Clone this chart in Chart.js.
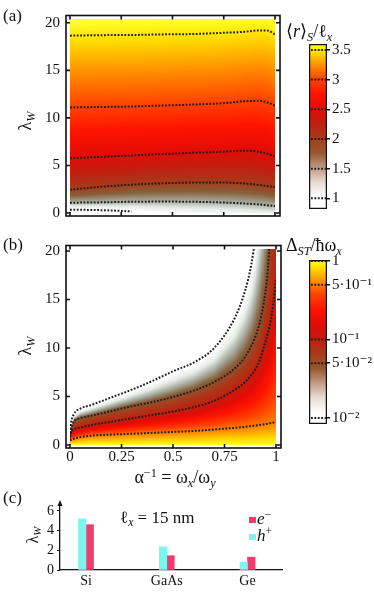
<!DOCTYPE html>
<html>
<head>
<meta charset="utf-8">
<script src="https://cdn.jsdelivr.net/npm/chart.js@4.4.0/dist/chart.umd.min.js"></script>
<style>
body { margin:0; width:374px; height:592px; position:relative; overflow:hidden; background:#fff;
  font-family:"Liberation Serif","DejaVu Serif",serif; color:#111; }
canvas { position:absolute; }
.lbl { position:absolute; white-space:nowrap; line-height:1; }
.rot { transform:translate(-50%,-50%) rotate(-90deg); }
.mid { transform:translate(-50%,-50%); }
sub, sup { font-size:68%; line-height:0; }
sub { vertical-align:-0.3em; }
sup { vertical-align:0.5em; }
.key { position:absolute; width:7px; height:6px; }
</style>
</head>
<body>
<canvas id="mapA" width="300" height="232" style="left:0;top:0"></canvas>
<canvas id="barA" width="74" height="190" style="left:300px;top:30px"></canvas>
<canvas id="mapB" width="300" height="262" style="left:0;top:230px"></canvas>
<canvas id="barB" width="74" height="190" style="left:300px;top:245px"></canvas>
<canvas id="chartC" width="374" height="102" style="left:0;top:490px"></canvas>

<div class="lbl" style="left:3px;top:7px;font-size:17px">(a)</div>
<div class="lbl" style="left:3px;top:236px;font-size:17px">(b)</div>
<div class="lbl" style="left:3px;top:489px;font-size:17px">(c)</div>
<div class="lbl rot" style="left:25px;top:121px;font-size:18px">λ<sub><i>W</i></sub></div>
<div class="lbl rot" style="left:25px;top:346px;font-size:18px">λ<sub><i>W</i></sub></div>
<div class="lbl rot" style="left:33px;top:535px;font-size:16px">λ<sub><i>W</i></sub></div>
<div class="lbl mid" style="left:175px;top:477px;font-size:18px">α<sup>−1</sup> = ω<sub><i>x</i></sub>/ω<sub><i>y</i></sub></div>
<div class="lbl" style="left:286px;top:22px;font-size:18px">⟨<i>r</i>⟩<sub><i>S</i></sub>/ℓ<sub><i>x</i></sub></div>
<div class="lbl" style="left:286px;top:236px;font-size:18px">Δ<sub><i>ST</i></sub>/ħω<sub><i>x</i></sub></div>
<div class="lbl" style="left:120px;top:509px;font-size:17px">ℓ<sub><i>x</i></sub> = 15 nm</div>
<div class="key" style="left:249px;top:517px;background:#f23a6c"></div>
<div class="lbl" style="left:257px;top:510px;font-size:17px"><i>e</i><sup>−</sup></div>
<div class="key" style="left:249px;top:534px;background:#7af5f0"></div>
<div class="lbl" style="left:257px;top:527px;font-size:17px"><i>h</i><sup>+</sup></div>

<script>
// axes
const alphaTicks = [0, 0.25, 0.5, 0.75, 1];
const alphaLabels = ['0', '0.25', '0.5', '0.75', '1'];
const lambdaTicks = [0, 5, 10, 15, 20];

// (a) contours of <r>_S / l_x : lambda_W along each level, sampled at alphaA
const alphaA = [0, 0.15, 0.3, 0.45, 0.6, 0.75, 0.85, 0.92, 0.96, 1];
const rLevels = [1, 1.5, 2, 2.5, 3, 3.5];
const lamR10 = [0.35, 0.3, 0.16, -0.1, -0.25, -0.35, -0.45, -0.5, -0.55, -0.6];
const lamR15 = [1.08, 1.12, 1.18, 1.2, 1.18, 1.1, 1.0, 0.9, 0.82, 0.72];
const lamR20 = [2.46, 2.75, 2.98, 3.12, 3.2, 3.2, 3.1, 2.95, 2.85, 2.7];
const lamR25 = [5.75, 5.9, 6.05, 6.2, 6.33, 6.45, 6.55, 6.45, 6.25, 5.95];
const lamR30 = [11.1, 11.15, 11.2, 11.3, 11.4, 11.55, 11.75, 11.8, 11.65, 11.3];
const lamR35 = [18.65, 18.7, 18.72, 18.78, 18.82, 18.95, 19.05, 19.2, 19.2, 18.8];
const cbTicksA = [1, 1.5, 2, 2.5, 3, 3.5];
const cbLabelsA = ['1', '1.5', '2', '2.5', '3', '3.5'];
const cbMinA = 0.82, cbMaxA = 3.6;

// (b) contours of Delta_ST / hbar w_x
const alphaB = [0, 0.005, 0.02, 0.05, 0.1, 0.2, 0.3, 0.4, 0.5, 0.6, 0.7, 0.8, 0.85, 0.88, 0.9, 0.92, 0.94, 0.96, 0.98, 1];
const dLevels = [1, 0.5, 0.1, 0.05, 0.01];
const lamD1   = [0, 0, 0, 0, 0, 0, 0, 0, 0, 0, 0, 0, 0, 0, 0, 0, 0, 0, 0, 0];
const lamD05  = [0.45, 0.55, 0.65, 0.8, 0.95, 1.07, 1.16, 1.25, 1.35, 1.45, 1.6, 1.77, 1.87, 1.95, 2.0, 2.06, 2.12, 2.2, 2.28, 2.37];
const lamD01  = [0.8, 1.3, 1.63, 1.8, 2.05, 2.4, 2.75, 3.1, 3.45, 3.9, 4.55, 5.7, 6.5, 7.2, 7.8, 8.7, 10.0, 11.5, 13.5, 17.0];
const lamD005 = [0.85, 1.6, 2.45, 2.76, 3.0, 3.5, 4.0, 4.42, 4.95, 5.6, 6.5, 7.9, 9.1, 10.2, 11.2, 12.5, 14.6, 18.0, 26, 40];
const lamD001 = [0.9, 2.2, 3.2, 3.75, 4.1, 4.9, 5.7, 6.6, 7.6, 8.5, 10.0, 13.1, 15.9, 18.6, 21.5, 26, 32, 40, 52, 70];
const cbTicksB = [1, 0.5, 0.1, 0.05, 0.01];
const cbLabelsB = ['1', '5·10⁻¹', '10⁻¹', '5·10⁻²', '10⁻²'];
const cbMinB = 0.0084, cbMaxB = 1.03;

// (c) lambda_W per material
const materials = ['Si', 'GaAs', 'Ge'];
const holeLambda = [5.2, 2.35, 0.8];
const elecLambda = [4.6, 1.45, 1.3];
const barTicks = [0, 2, 4, 6];

// colour map
const cmapPos  = [0, 0.07, 0.16, 0.25, 0.34, 0.43, 0.52, 0.61, 0.70, 0.79, 0.875, 0.96, 1];
const cmapBar  = ['#ffffff', '#ffffff', '#e8dcd6', '#c29a84', '#98582e', '#a83a1a', '#c21e0e', '#e20c06', '#ff1400', '#ff4400', '#ff9200', '#ffe600', '#ffff30'];
const cmapHeat = ['#ffffff', '#ffffff', '#e6eae6', '#a8ada2', '#85603a', '#a83a1a', '#c21e0e', '#e20c06', '#ff1400', '#ff4400', '#ff9200', '#ffe600', '#ffff30'];

Chart.defaults.font.family = '"Liberation Serif", "DejaVu Serif", serif';
Chart.defaults.font.size = 15;
Chart.defaults.color = '#111';
Chart.defaults.animation = false;
Chart.defaults.responsive = false;
Chart.defaults.plugins.legend.display = false;
Chart.defaults.plugins.tooltip.enabled = false;

function hexRgb(h) {
  return [1, 3, 5].map(i => parseInt(h.slice(i, i + 2), 16));
}

function lerpAt(xs, ys, v) {
  let k = 0;
  while (k < xs.length - 2 && v > xs[k + 1]) k++;
  const f = (v - xs[k]) / ((xs[k + 1] - xs[k]) || 1e-9);
  return ys[k] + f * (ys[k + 1] - ys[k]);
}

function colourAt(t, cols) {
  t = Math.max(0, Math.min(1, t));
  return [0, 1, 2].map(i => lerpAt(cmapPos, cols.map(c => c[i]), t));
}

// paints the map under the contour lines, pixel by pixel, from the scales
function heatmap(alphas, contours, levelVals, toT) {
  const cols = cmapHeat.map(hexRgb);
  return {
    id: 'heatmap',
    beforeDatasetsDraw(chart) {
      const { ctx, chartArea: ar, scales: { x, y } } = chart;
      const w = Math.round(ar.width), h = Math.round(ar.height);
      const off = document.createElement('canvas');
      off.width = w; off.height = h;
      const octx = off.getContext('2d');
      const img = octx.createImageData(w, h);
      for (let i = 0; i < w; i++) {
        const a = x.getValueForPixel(ar.left + i + 0.5);
        const lam = contours.map(c => lerpAt(alphas, c, a));
        for (let j = 0; j < h; j++) {
          const l = y.getValueForPixel(ar.top + j + 0.5);
          const c = colourAt(toT(lerpAt(lam, levelVals, l)), cols);
          const p = (j * w + i) * 4;
          img.data[p] = c[0]; img.data[p + 1] = c[1]; img.data[p + 2] = c[2]; img.data[p + 3] = 255;
        }
      }
      octx.putImageData(img, 0, 0);
      ctx.drawImage(off, ar.left, ar.top);
    }
  };
}

// box round the map with inward ticks on all sides
const framePlugin = {
  id: 'frame',
  afterDatasetsDraw(chart, args, opts) {
    const { ctx, chartArea: ar, scales: { x, y } } = chart;
    const L = ar.left - 4, R = ar.right + 5, T = ar.top - 3.5, B = ar.bottom + 3;
    ctx.save();
    ctx.strokeStyle = '#111';
    ctx.lineWidth = 1.6;
    ctx.strokeRect(L, T, R - L, B - T);
    ctx.beginPath();
    opts.xTicks.forEach(v => {
      const px = x.getPixelForValue(v);
      ctx.moveTo(px, B); ctx.lineTo(px, B - 4);
      ctx.moveTo(px, T); ctx.lineTo(px, T + 4);
    });
    opts.yTicks.forEach(v => {
      const py = y.getPixelForValue(v);
      ctx.moveTo(L, py); ctx.lineTo(L + 4, py);
      ctx.moveTo(R, py); ctx.lineTo(R - 4, py);
    });
    ctx.stroke();
    ctx.restore();
  }
};

// dotted level marks across the colour bars
const cbLines = {
  id: 'cbLines',
  afterDatasetsDraw(chart) {
    const { ctx, chartArea: ar, scales: { y } } = chart;
    ctx.save();
    ctx.strokeStyle = '#1c1c1c';
    ctx.lineWidth = 2;
    ctx.setLineDash([1.8, 1.6]);
    y.ticks.forEach(t => {
      const py = y.getPixelForValue(t.value);
      ctx.beginPath(); ctx.moveTo(ar.left + 2, py); ctx.lineTo(ar.right, py); ctx.stroke();
    });
    ctx.restore();
  }
};

function contourSet(alphas, lams) {
  return {
    data: alphas.map((a, i) => ({ x: a, y: lams[i] })),
    showLine: true,
    borderColor: '#1c1c1c',
    borderWidth: 2,
    borderDash: [1.8, 1.6],
    pointRadius: 0,
    cubicInterpolationMode: 'monotone',
    segment: { borderColor: s => s.p1.parsed.y < 0 ? 'rgba(0,0,0,0)' : undefined }
  };
}

function mapScales(yMax, showX, xHeight) {
  return {
    x: {
      type: 'linear', min: 0, max: 1, display: showX,
      afterBuildTicks: s => { s.ticks = alphaTicks.map(v => ({ value: v })); },
      ticks: { callback: (v, i) => alphaLabels[i], padding: 3, autoSkip: false, maxRotation: 0 },
      grid: { display: false, drawTicks: false },
      border: { display: false },
      afterFit: s => { s.height = xHeight; }
    },
    y: {
      type: 'linear', min: 0, max: yMax,
      afterBuildTicks: s => { s.ticks = lambdaTicks.map(v => ({ value: v })); },
      ticks: { callback: v => String(v), padding: 10, autoSkip: false },
      grid: { display: false, drawTicks: false },
      border: { display: false },
      afterFit: s => { s.width = 70; }
    }
  };
}

// (a)
new Chart(document.getElementById('mapA'), {
  type: 'scatter',
  data: { datasets: [lamR10, lamR15, lamR20, lamR25, lamR30, lamR35].map(l => contourSet(alphaA, l)) },
  options: {
    layout: { padding: { top: 13, right: 25, bottom: 12 } },
    scales: mapScales(20.4, false, 0),
    plugins: { frame: { xTicks: alphaTicks, yTicks: lambdaTicks } }
  },
  plugins: [heatmap(alphaA, [lamR10, lamR15, lamR20, lamR25, lamR30, lamR35], rLevels,
    v => (v - cbMinA) / (cbMaxA - cbMinA)), framePlugin]
});

// (b)
const logMin = Math.log10(cbMinB), logMax = Math.log10(cbMaxB);
new Chart(document.getElementById('mapB'), {
  type: 'scatter',
  data: { datasets: [lamD05, lamD01, lamD005, lamD001].map(l => contourSet(alphaB, l)) },
  options: {
    layout: { padding: { top: 8, right: 24 } },
    scales: mapScales(20.2, true, 47),
    plugins: { frame: { xTicks: alphaTicks, yTicks: lambdaTicks } }
  },
  plugins: [heatmap(alphaB, [lamD1, lamD05, lamD01, lamD005, lamD001], dLevels.map(Math.log10),
    lv => (lv - logMin) / (logMax - logMin)), framePlugin]
});

// colour bars
function colourBar(id, type, min, max, ticks, labels, top) {
  const cols = cmapBar;
  return new Chart(document.getElementById(id), {
    type: 'bar',
    data: {
      labels: [''],
      datasets: [{
        data: [[min, max]],
        backgroundColor: c => {
          const ar = c.chart.chartArea;
          if (!ar) return '#fff';
          const g = c.chart.ctx.createLinearGradient(0, ar.bottom, 0, ar.top);
          cmapPos.forEach((p, i) => g.addColorStop(p, cols[i]));
          return g;
        },
        borderColor: '#111',
        borderWidth: 1.6,
        borderSkipped: false,
        categoryPercentage: 1,
        barPercentage: 1
      }]
    },
    options: {
      layout: { padding: { left: 9, top: top, bottom: 7 } },
      scales: {
        x: { display: false },
        y: {
          type: type, position: 'right', min: min, max: max,
          afterBuildTicks: s => { s.ticks = ticks.map(v => ({ value: v })); },
          ticks: { callback: (v, i) => labels[i], padding: 2, autoSkip: false },
          grid: { drawOnChartArea: false, tickLength: 3, color: '#111', lineWidth: 1.5 },
          border: { display: false },
          afterFit: s => { s.width = 47; }
        }
      }
    },
    plugins: [cbLines]
  });
}
colourBar('barA', 'linear', cbMinA, cbMaxA, cbTicksA, cbLabelsA, 14);
colourBar('barB', 'logarithmic', cbMinB, cbMaxB, cbTicksB, cbLabelsB, 15);

// (c)
const arrowPlugin = {
  id: 'arrow',
  afterDraw(chart) {
    const { ctx, chartArea: ar } = chart;
    ctx.save();
    ctx.fillStyle = '#111';
    ctx.beginPath();
    ctx.moveTo(ar.left, ar.top - 5);
    ctx.lineTo(ar.left - 2.5, ar.top + 1);
    ctx.lineTo(ar.left + 2.5, ar.top + 1);
    ctx.closePath();
    ctx.fill();
    ctx.restore();
  }
};

new Chart(document.getElementById('chartC'), {
  type: 'bar',
  data: {
    datasets: [
      { label: 'h+', data: holeLambda.map((v, i) => ({ x: i, y: v })), backgroundColor: '#7af5f0', barThickness: 7.5 },
      { label: 'e-', data: elecLambda.map((v, i) => ({ x: i, y: v })), backgroundColor: '#f23a6c', barThickness: 7.5 }
    ]
  },
  options: {
    layout: { padding: { top: 15, right: 92 } },
    scales: {
      x: {
        type: 'linear', min: -0.322, max: 2.427, offset: false,
        afterBuildTicks: s => { s.ticks = materials.map((m, i) => ({ value: i })); },
        ticks: { callback: v => materials[v], padding: 3, font: { size: 14 }, autoSkip: false, maxRotation: 0 },
        grid: { display: false, drawTicks: false },
        border: { color: '#111', width: 1.3 },
        afterFit: s => { s.height = 22; }
      },
      y: {
        min: 0, max: 6.6,
        afterBuildTicks: s => { s.ticks = barTicks.map(v => ({ value: v })); },
        ticks: { padding: 3, font: { size: 14 }, autoSkip: false },
        grid: { drawOnChartArea: false, tickLength: 3, color: '#111' },
        border: { color: '#111', width: 1.3 },
        afterFit: s => { s.width = 60; }
      }
    }
  },
  plugins: [arrowPlugin]
});
</script>
</body>
</html>
